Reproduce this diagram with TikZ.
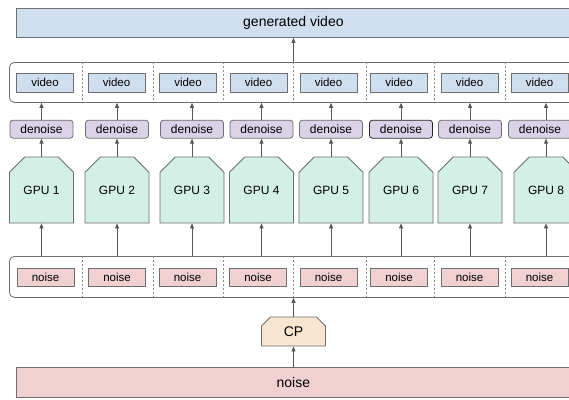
\documentclass[tikz,border=0pt]{standalone}
\usepackage{fontspec}
\setmainfont{Liberation Sans}
\usetikzlibrary{positioning,shapes.misc,arrows.meta}

\definecolor{vidblue}{HTML}{D0DFF0}
\definecolor{dnpurple}{HTML}{DAD3E8}
\definecolor{gpugreen}{HTML}{D2F0E6}
\definecolor{noisered}{HTML}{F0D0D0}
\definecolor{cporange}{HTML}{FAE6D0}
\definecolor{edge}{HTML}{6E6E6E}

\begin{document}
\begin{tikzpicture}[
        x=1pt, y=-1pt,
        box/.style={draw=edge, line width=0.8pt, inner sep=0pt, text=black},
        video/.style={box, fill=vidblue, minimum width=57pt, minimum height=19pt,
            font=\fontsize{11.5}{13}\selectfont},
        noise/.style={box, fill=noisered, minimum width=57pt, minimum height=18pt,
            font=\fontsize{11.5}{13}\selectfont},
        denoise/.style={box, fill=dnpurple, rounded corners=3pt,
            minimum width=63pt, minimum height=18pt, font=\fontsize{12}{14}\selectfont},
        gpu/.style={box, fill=gpugreen, chamfered rectangle,
            chamfered rectangle corners={north west,north east},
            chamfered rectangle xsep=9pt, chamfered rectangle ysep=11pt,
            minimum width=64pt, minimum height=66pt, font=\fontsize{12}{14}\selectfont},
        holder/.style={draw=edge, line width=0.8pt, rounded corners=5pt,
            inner sep=0pt, anchor=north west},
        divider/.style={draw=edge!80, line width=0.6pt, dash pattern=on 2pt off 2pt},
        arr/.style={draw=edge!80!black, line width=0.8pt, -{Triangle[length=5pt,width=4pt]}}
      ]

  \useasboundingbox (0,0) rectangle (569,399);
  \clip (0,0) rectangle (569,399);

  % output
  \node   (gen) [box,fill=vidblue,anchor=north west,minimum width=554pt,minimum height=29pt,font=\fontsize{14}{16}\selectfont] at (16,8) {generated video};

  % video row
  \node   (vidrow) [holder,minimum width=620pt,minimum height=40pt] at (9,62) {};
  \node   (vid1) [video] at (45,82.5) {video};
  \node   (vid2) [video] at (116.5,82.5) {video};
  \node   (vid3) [video] at (188,82.5) {video};
  \node   (vid4) [video] at (258.5,82.5) {video};
  \node   (vid5) [video] at (328.5,82.5) {video};
  \node   (vid6) [video] at (399,82.5) {video};
  \node   (vid7) [video] at (469.5,82.5) {video};
  \node   (vid8) [video] at (539.5,82.5) {video};

  % gpus
  \node   (gpu1) [gpu] at (41.5,190) {GPU 1};
  \node   (gpu2) [gpu] at (117,190) {GPU 2};
  \node   (gpu3) [gpu] at (192,190) {GPU 3};
  \node   (gpu4) [gpu] at (261.5,190) {GPU 4};
  \node   (gpu5) [gpu] at (331,190) {GPU 5};
  \node   (gpu6) [gpu] at (401,190) {GPU 6};
  \node   (gpu7) [gpu] at (470,190) {GPU 7};
  \node   (gpu8) [gpu] at (546,190) {GPU 8};

  % denoise steps
  \node   (dn1) [denoise,above=18pt of gpu1] {denoise};
  \node   (dn2) [denoise,above=18pt of gpu2] {denoise};
  \node   (dn3) [denoise,above=18pt of gpu3] {denoise};
  \node   (dn4) [denoise,above=18pt of gpu4] {denoise};
  \node   (dn5) [denoise,above=18pt of gpu5] {denoise};
  \node   (dn6) [denoise,above=18pt of gpu6,draw=black!85] {denoise};
  \node   (dn7) [denoise,above=18pt of gpu7] {denoise};
  \node   (dn8) [denoise,above=18pt of gpu8,xshift=-6pt] {denoise};

  % noise row
  \node   (noiserow) [holder,minimum width=620pt,minimum height=41pt] at (9,256) {};
  \node   (nz1) [noise] at (45.5,277) {noise};
  \node   (nz2) [noise] at (117,277) {noise};
  \node   (nz3) [noise] at (187.5,277) {noise};
  \node   (nz4) [noise] at (258,277) {noise};
  \node   (nz5) [noise] at (328.5,277) {noise};
  \node   (nz6) [noise] at (399,277) {noise};
  \node   (nz7) [noise] at (469.5,277) {noise};
  \node   (nz8) [noise] at (539.5,277) {noise};

  % input
  \node   (cp) [box,fill=cporange,chamfered rectangle,chamfered rectangle corners={north west,north east},chamfered rectangle xsep=4pt,chamfered rectangle ysep=5pt,minimum width=64pt,minimum height=29pt,font=\fontsize{14}{16}\selectfont] at (293.5,331.5) {CP};
  \node   (bignoise) [box,fill=noisered,anchor=north west,minimum width=554pt,minimum height=30pt,font=\fontsize{14}{16}\selectfont] at (16,367) {noise};

  \foreach \x in {82,153,223,293,366,434,505} {
    \draw[divider] (\x,62) -- (\x,102);
    \draw[divider] (\x,256) -- (\x,297);
  }

  \foreach \i in {1,...,8} {
    \draw[arr] (noiserow.north -| gpu\i) -- (gpu\i.south);
    \draw[arr] (gpu\i.north) -- (dn\i.south -| gpu\i);
    \draw[arr] (dn\i.north -| gpu\i) -- (vidrow.south -| gpu\i);
  }

  \draw[arr] (bignoise.north -| cp) -- (cp.south);
  \draw[arr] (cp.north) -- (noiserow.south -| cp);
  \draw[arr] (vidrow.north -| cp) -- (gen.south -| cp);

\end{tikzpicture}
\end{document}
